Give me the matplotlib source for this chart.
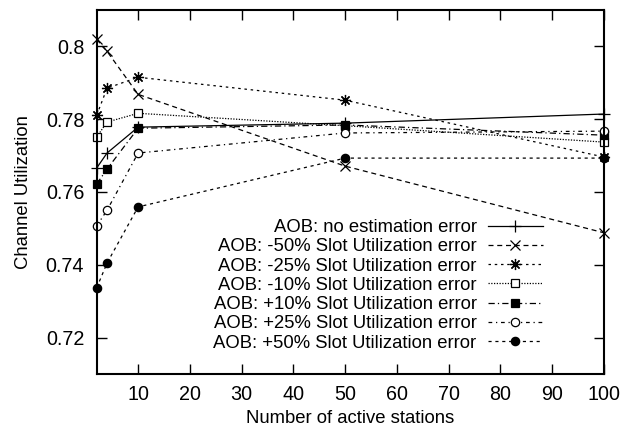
import matplotlib
matplotlib.use("Agg")
import matplotlib.pyplot as plt

plt.rcParams['font.family'] = ['Liberation Sans', 'DejaVu Sans']

# Number of active stations
stations = [2, 4, 10, 50, 100]

# Channel utilization for each slot-utilization estimation error
no_error = [0.7666, 0.7707, 0.7778, 0.7789, 0.7814]
err_m50 = [0.8019, 0.7986, 0.7868, 0.7671, 0.7488]
err_m25 = [0.7811, 0.7885, 0.7915, 0.7852, 0.7696]
err_m10 = [0.7751, 0.7792, 0.7816, 0.7782, 0.7737]
err_p10 = [0.7622, 0.7663, 0.7775, 0.7784, 0.7756]
err_p25 = [0.7507, 0.7550, 0.7707, 0.7762, 0.7767]
err_p50 = [0.7337, 0.7405, 0.7559, 0.7693, 0.7693]

labels = [
    "AOB: no estimation error",
    "AOB: -50% Slot Utilization error",
    "AOB: -25% Slot Utilization error",
    "AOB: -10% Slot Utilization error",
    "AOB: +10% Slot Utilization error",
    "AOB: +25% Slot Utilization error",
    "AOB: +50% Slot Utilization error",
]

xticks = [10, 20, 30, 40, 50, 60, 70, 80, 90, 100]
yticks = [0.72, 0.74, 0.76, 0.78, 0.80]
ytick_labels = ["0.72", "0.74", "0.76", "0.78", "0.8"]

fig = plt.figure(figsize=(6.2, 4.29), dpi=100)
ax = fig.add_axes([0.156, 0.128, 0.818, 0.849])

styles = [
    dict(dashes=None, marker='+', ms=8, mfc='black'),
    dict(dashes=(4, 3), marker='x', ms=7, mfc='black'),
    dict(dashes=(2, 3), marker=(8, 2, 0), ms=8, mfc='black'),
    dict(dashes=(1, 1.2), marker='s', ms=6, mfc='white'),
    dict(dashes=(5, 2.5, 1, 2.5), marker='s', ms=6, mfc='black'),
    dict(dashes=(3, 3, 1, 3), marker='o', ms=6, mfc='white'),
    dict(dashes=(2.5, 3), marker='o', ms=6, mfc='black'),
]
series = [no_error, err_m50, err_m25, err_m10, err_p10, err_p25, err_p50]

for y, st, lab in zip(series, styles, labels):
    line, = ax.plot(stations, y, color='black', lw=0.9, marker=st['marker'],
                    ms=st['ms'], mfc=st['mfc'], mec='black', mew=0.9,
                    label=lab, clip_on=False)
    if st['dashes'] is not None:
        line.set_dashes(st['dashes'])

ax.set_xlim(2, 100)
ax.set_ylim(0.71, 0.81)
ax.set_xticks(xticks)
ax.set_yticks(yticks)
ax.set_yticklabels(ytick_labels)
ax.tick_params(direction='in', length=7, width=1, top=True, right=True,
               labelsize=14.2)
ax.tick_params(axis='y', pad=9)
ax.tick_params(axis='x', pad=7.5)
for s in ax.spines.values():
    s.set_linewidth(1.5)

ax.set_xlabel("Number of active stations", fontsize=13.3, labelpad=5)
ax.set_ylabel("Channel Utilization", fontsize=13.3, labelpad=10)

ax.legend(loc='lower right', bbox_to_anchor=(0.88, 0.062), frameon=False,
          markerfirst=False, fontsize=13.3, handlelength=3.0,
          handletextpad=0.6, labelspacing=0.12, borderpad=0, borderaxespad=0)

fig.savefig("out.png", dpi=100)
